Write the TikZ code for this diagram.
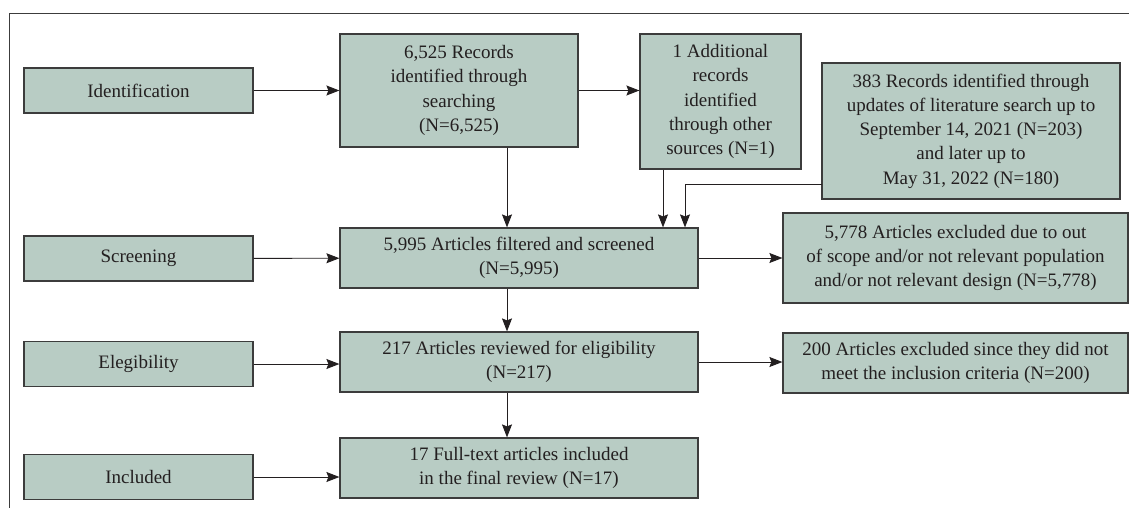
\documentclass[tikz,border=0pt]{standalone}
\usepackage{fontspec}
\setmainfont{Liberation Serif}
\usetikzlibrary{arrows.meta}
\definecolor{boxfill}{RGB}{184,204,196}
\definecolor{boxline}{RGB}{60,60,60}
\definecolor{inkgray}{RGB}{35,31,32}
\begin{document}
\begin{tikzpicture}[x=1pt, y=-1pt,
    stage/.style={draw=boxline, fill=boxfill, line width=1.2pt, minimum width=229pt, minimum height=45pt, inner sep=0pt, align=center, text=inkgray, font=\fontsize{19pt}{24.3pt}\selectfont},
    flow/.style={draw=boxline, fill=boxfill, line width=1.2pt, inner sep=0pt, align=center, text=inkgray, font=\fontsize{19pt}{24.3pt}\selectfont},
    arrow/.style={-{Stealth[length=13pt, width=10pt, inset=2pt]}, line width=0.9pt, draw=inkgray},
    frame/.style={draw=boxline, line width=1pt}
]
\useasboundingbox (0,0) rectangle (1129,508);
% Rahmen
\draw[frame] (1129,14) -- (9,14) -- (9,508);

% Phasen
\node[stage] (ident) at (138.5,90.5) {Identification};
\node[stage] (screen) at (138.5,258.5) {Screening};
\node[stage] (elig) at (138.5,364) {Elegibility};
\node[stage] (incl) at (138.5,477) {Included};

% Datensaetze
\node[flow, minimum width=238pt, minimum height=113pt] (rec) at (459,90.5) {6,525 Records\\identified through\\searching\\(N=6,525)};
\node[flow, minimum width=161pt, minimum height=135pt] (add) at (720.5,101.5) {1 Additional\\records\\identified\\through other\\sources (N=1)};
\node[flow, minimum width=298pt, minimum height=136pt] (upd) at (971,131) {383 Records identified through\\updates of literature search up to\\September 14, 2021 (N=203)\\and later up to\\May 31, 2022 (N=180)};
\node[flow, minimum width=358pt, minimum height=60pt] (filt) at (519,258) {5,995 Articles filtered and screened\\(N=5,995)};
\node[flow, minimum width=345pt, minimum height=90pt] (excl1) at (955.5,258) {5,778 Articles excluded due to out\\of scope and/or not relevant population\\and/or not relevant design (N=5,778)};
\node[flow, minimum width=358pt, minimum height=60pt] (rev) at (519,362) {217 Articles reviewed for eligibility\\(N=217)};
\node[flow, minimum width=345pt, minimum height=60pt] (excl2) at (955.5,363) {200 Articles excluded since they did not\\meet the inclusion criteria (N=200)};
\node[flow, minimum width=358pt, minimum height=60pt] (final) at (519,468) {17 Full-text articles included\\in the final review (N=17)};

% Hilfspunkte
\coordinate (spine) at (507,0);
\coordinate (addx) at (663,0);
\coordinate (updx) at (685,0);
\coordinate (updout) at (822,184);

% Verbindungen
\draw[arrow] (ident) -- (rec);
\draw[arrow] (rec.east) -- (rec.east -| add.west);
\draw[arrow] (screen) -- (filt);
\draw[arrow] (elig.east) -- (elig.east -| rev.west);
\draw[arrow] (incl.east) -- (incl.east -| final.west);
\draw[arrow] (rec.south -| spine) -- (filt.north -| spine);
\draw[arrow] (add.south -| addx) -- (filt.north -| addx);
\draw[arrow] (updout) -- (updout -| updx) -- (filt.north -| updx);
\draw[arrow] (filt) -- (excl1);
\draw[arrow] (rev.east) -- (rev.east -| excl2.west);
\draw[arrow] (filt.south -| spine) -- (rev.north -| spine);
\draw[arrow] (rev.south -| spine) -- (final.north -| spine);
\end{tikzpicture}
\end{document}
